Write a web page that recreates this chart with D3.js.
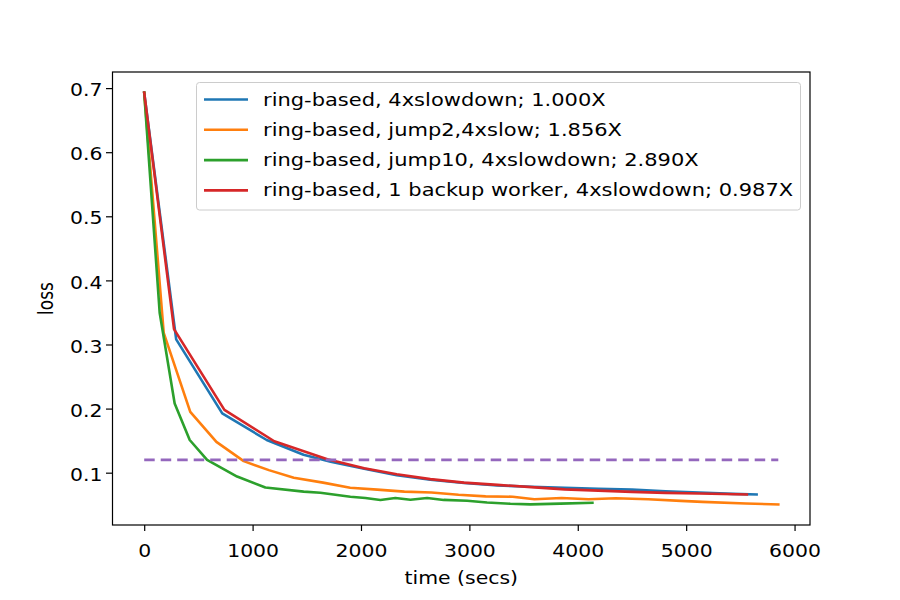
<!DOCTYPE html>
<meta charset="utf-8">
<style>
body { margin: 0; background: #fff; }
text { font-family: "DejaVu Sans", sans-serif; font-size: 17px; fill: #000; }
</style>
<svg id="svg" width="900" height="600"></svg>
<script src="https://d3js.org/d3.v7.min.js"></script>
<script>
// series data (time in secs, loss)
var blueX = [0, 295, 720, 1130, 1470, 1720, 2030, 2330, 2640, 2950, 3260, 3570, 3880, 4190, 4500, 4810, 5120, 5430, 5650];
var blueY = [0.693, 0.308, 0.1925, 0.151, 0.128, 0.117, 0.106, 0.096, 0.089, 0.084, 0.080, 0.078, 0.0765, 0.075, 0.0735, 0.071, 0.069, 0.067, 0.066];

var orangeX = [0, 180, 425, 666, 918, 1150, 1380, 1650, 1900, 2150, 2400, 2650, 2900, 3150, 3400, 3600, 3850, 4100, 4350, 4650, 4950, 5150, 5550, 5850];
var orangeY = [0.693, 0.318, 0.195, 0.148, 0.118, 0.104, 0.092, 0.0845, 0.0765, 0.0735, 0.0705, 0.069, 0.0655, 0.063, 0.0625, 0.0585, 0.0605, 0.0585, 0.060, 0.0585, 0.056, 0.0545, 0.052, 0.0505];

var greenX = [0, 143, 281, 420, 580, 857, 1118, 1471, 1625, 1902, 2041, 2179, 2317, 2456, 2610, 2763, 2979, 3163, 3378, 3563, 3839, 4135];
var greenY = [0.693, 0.349, 0.208, 0.151, 0.120, 0.094, 0.077, 0.0705, 0.0687, 0.0625, 0.0605, 0.0573, 0.0604, 0.0578, 0.0605, 0.0575, 0.0562, 0.0535, 0.0515, 0.0505, 0.0518, 0.053];

var redX = [0, 275, 740, 1200, 1690, 2030, 2330, 2640, 2950, 3260, 3570, 3880, 4190, 4500, 4810, 5120, 5560];
var redY = [0.693, 0.324, 0.198, 0.149, 0.121, 0.107, 0.0975, 0.090, 0.0845, 0.081, 0.0775, 0.074, 0.072, 0.070, 0.0685, 0.0675, 0.066];

// target loss line
var targetX = [0, 5850];
var targetLoss = 0.12;

var labels = [
    "ring-based, 4xslowdown; 1.000X",
    "ring-based, jump2,4xslow; 1.856X",
    "ring-based, jump10, 4xslowdown; 2.890X",
    "ring-based, 1 backup worker, 4xslowdown; 0.987X"
];
var colors = ["#1f77b4", "#ff7f0e", "#2ca02c", "#d62728"];

var xTicks = [0, 1000, 2000, 3000, 4000, 5000, 6000];
var yTicks = [0.1, 0.2, 0.3, 0.4, 0.5, 0.6, 0.7];

var series = [
    {x: blueX, y: blueY},
    {x: orangeX, y: orangeY},
    {x: greenX, y: greenY},
    {x: redX, y: redY}
];

var svg = d3.select("svg");
var mLeft = 112.5, mRight = 810, mTop = 72, mBottom = 525;
var sx = 1.2;   // the original figure is stretched sideways

// move x/y into a transform so the glyphs can be widened
function stretch(sel, k) {
    k = k || sx;
    sel.each(function() {
        var t = d3.select(this);
        var tx = +t.attr("x") || 0, ty = +t.attr("y") || 0;
        var base = t.attr("transform") || "";
        t.attr("x", 0).attr("y", 0)
         .attr("transform", base + " translate(" + tx + "," + ty + ") scale(" + k + ",1)");
    });
}

// matplotlib style 5% margins
var allX = [].concat(blueX, orangeX, greenX, redX, targetX);
var allY = [].concat(blueY, orangeY, greenY, redY);
var xmin = d3.min(allX), xmax = d3.max(allX);
var ymin = d3.min(allY), ymax = d3.max(allY);
var xm = (xmax - xmin) * 0.05, ym = (ymax - ymin) * 0.05;

var x = d3.scaleLinear().domain([xmin - xm, xmax + xm]).range([mLeft, mRight]);
var y = d3.scaleLinear().domain([ymin - ym, ymax + ym]).range([mBottom, mTop]);

var line = d3.line()
    .x(function(d) { return x(d[0]); })
    .y(function(d) { return y(d[1]); });

var plot = svg.append("g");

series.forEach(function(s, i) {
    plot.append("path")
        .datum(d3.zip(s.x, s.y))
        .attr("d", line)
        .attr("fill", "none")
        .attr("stroke", colors[i])
        .attr("stroke-width", 2.6)
        .attr("stroke-linejoin", "round")
        .attr("stroke-linecap", "square");
});

plot.append("path")
    .datum(targetX.map(function(t) { return [t, targetLoss]; }))
    .attr("d", line)
    .attr("fill", "none")
    .attr("stroke", "#9467bd")
    .attr("stroke-width", 2.6)
    .attr("stroke-dasharray", "10.5,6");

// axes
var xAxis = svg.append("g")
    .attr("transform", "translate(0," + mBottom + ")")
    .call(d3.axisBottom(x).tickValues(xTicks).tickSize(6).tickFormat(d3.format("d")));

var yAxis = svg.append("g")
    .attr("transform", "translate(" + mLeft + ",0)")
    .call(d3.axisLeft(y).tickValues(yTicks).tickSize(6.5).tickFormat(d3.format(".1f")));

[xAxis, yAxis].forEach(function(a) {
    a.select(".domain").remove();
    a.selectAll(".tick line").attr("stroke", "#000").attr("stroke-width", 1.2);
    a.selectAll(".tick text")
        .attr("fill", "#000")
        .style("font-size", "17px")
        .style("font-family", "DejaVu Sans");
});
xAxis.selectAll(".tick text").attr("y", 32).attr("dy", 0);
yAxis.selectAll(".tick text").attr("x", -10).attr("dy", "0.45em");
stretch(xAxis.selectAll(".tick text"));
stretch(yAxis.selectAll(".tick text"));

// frame
svg.append("rect")
    .attr("x", mLeft).attr("y", mTop)
    .attr("width", mRight - mLeft).attr("height", mBottom - mTop)
    .attr("fill", "none")
    .attr("stroke", "#000")
    .attr("stroke-width", 1.2);

svg.append("text")
    .attr("x", (mLeft + mRight) / 2)
    .attr("y", 584)
    .attr("text-anchor", "middle")
    .text("time (secs)")
    .call(stretch);

svg.append("text")
    .attr("transform", "translate(53," + ((mTop + mBottom) / 2) + ") rotate(-90) scale(1," + sx + ")")
    .attr("text-anchor", "middle")
    .text("loss");

// legend
var legend = svg.append("g");
legend.append("rect")
    .attr("x", 196.5).attr("y", 82.5)
    .attr("width", 604).attr("height", 127.5)
    .attr("rx", 3)
    .attr("fill", "#fff")
    .attr("fill-opacity", 0.8)
    .attr("stroke", "#ccc")
    .attr("stroke-width", 1);

labels.forEach(function(l, i) {
    var ly = 99.5 + i * 30.3;
    legend.append("line")
        .attr("x1", 204).attr("x2", 248)
        .attr("y1", ly).attr("y2", ly)
        .attr("stroke", colors[i])
        .attr("stroke-width", 2.6);
    legend.append("text")
        .attr("x", 263)
        .attr("y", ly + 6)
        .text(l)
        .call(stretch, 1.235);
});
</script>
